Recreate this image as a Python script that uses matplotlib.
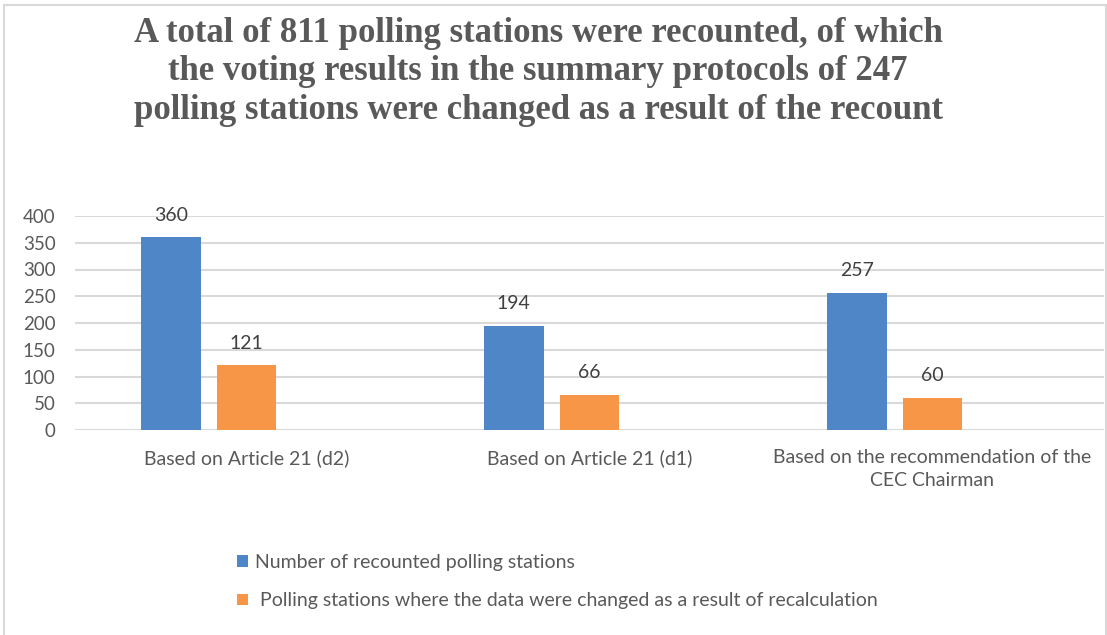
import matplotlib.pyplot as plt
from matplotlib.patches import Rectangle
import numpy as np

# chart data
categories = ['Based on Article 21 (d2)', 'Based on Article 21 (d1)',
              'Based on the recommendation of the\nCEC Chairman']
recounted = [360, 194, 257]
changed = [121, 66, 60]
series_names = ['Number of recounted polling stations',
                ' Polling stations where the data were changed as a result of recalculation']

title = ('A total of 811 polling stations were recounted, of which\n'
         'the voting results in the summary protocols of 247\n'
         'polling stations were changed as a result of the recount')

blue = '#4E86C8'
orange = '#F79646'
grey_text = '#595959'
grid_col = '#D9D9D9'

plt.rcParams['font.family'] = ['Lato', 'DejaVu Sans']

fig = plt.figure(figsize=(11.07, 6.35), dpi=100)
ax = fig.add_axes([75/1107, 1 - 430/635, (1104 - 75)/1107, 214/635])

x = np.arange(len(categories))
w = 0.174
off = 0.221
b1 = ax.bar(x - off, recounted, w, color=blue, label=series_names[0], zorder=3)
b2 = ax.bar(x, changed, w, color=orange, label=series_names[1], zorder=3)

# value labels above each bar
for bars in (b1, b2):
    for r in bars:
        ax.annotate(str(int(r.get_height())),
                    (r.get_x() + r.get_width()/2, r.get_height()),
                    xytext=(0, 16), textcoords='offset points',
                    ha='center', va='center', fontsize=14, color='#404040')

ax.set_xlim(-0.5, 2.5)
ax.set_ylim(0, 400)
ax.set_yticks(range(0, 401, 50))
ax.set_xticks(x)
ax.set_xticklabels(categories, linespacing=1.4)
ax.grid(axis='y', color=grid_col, linewidth=1.5, zorder=0)
for s in ax.spines.values():
    s.set_visible(False)
ax.tick_params(axis='y', length=0, pad=14, labelsize=13.5, labelcolor=grey_text)
ax.tick_params(axis='x', length=0, pad=14, labelsize=14, labelcolor=grey_text)

fig.text(0.486, 1 - 17/635, title, ha='center', va='top', fontsize=25,
         fontweight='bold', color=grey_text, linespacing=1.22,
         family=['DejaVu Serif Condensed', 'Liberation Serif'])

fig.legend(handles=[b1, b2], loc='upper left',
           bbox_to_anchor=(237/1107, 1 - 554/635), frameon=False,
           fontsize=14, labelcolor=grey_text, handlelength=0.55,
           handleheight=0.55, handletextpad=0.4, labelspacing=1.1,
           borderpad=0, borderaxespad=0)

# light frame round the chart area
fig.patches.append(Rectangle((4/1107, -0.1), 1102/1107, 1.1 - 5/635,
                             transform=fig.transFigure, fill=False,
                             edgecolor=grid_col, linewidth=1.5))

fig.savefig('out.png', dpi=100)
